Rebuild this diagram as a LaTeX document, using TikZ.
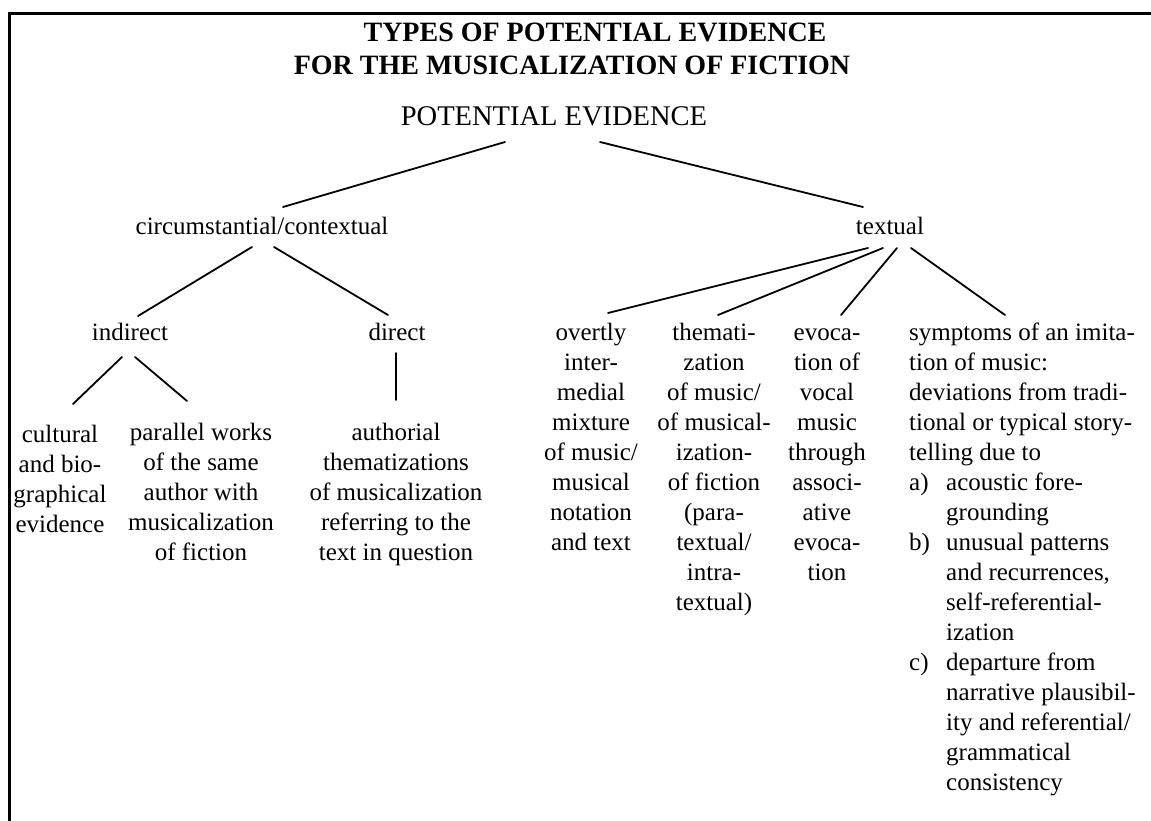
\documentclass[tikz,border=0pt]{standalone}
\usepackage{fontspec}
\setmainfont{Liberation Serif}
% text columns whose baseline is their first line
\newcommand\colc[1]{\begin{tabular}[t]{@{}c@{}}#1\end{tabular}}
\newcommand\coll[1]{\begin{tabular}[t]{@{}l@{}}#1\end{tabular}}
% hanging indent for the lettered items of the last column
\newcommand\symitem[1]{\makebox[37pt][l]{#1}}
\newcommand\symcont{\hspace*{37pt}}
\begin{document}
\begin{tikzpicture}[x=1pt,y=-1pt,
  txt/.style={inner sep=0pt, anchor=base,
    font=\fontsize{25}{30}\selectfont},
  titletxt/.style={inner sep=0pt, anchor=base,
    font=\fontsize{28}{34}\selectfont\bfseries},
  branch/.style={line width=1.8pt, line cap=round},
  frameline/.style={line width=3pt}]
\useasboundingbox (0,0) rectangle (1151,821);

% page frame (top and left edges)
\draw[frameline] (9,821) -- (9,13.5) -- (1151,13.5);

% heading
\node[titletxt] (title1) at (595,42) {TYPES OF POTENTIAL EVIDENCE};
\node[titletxt] (title2) at (572,75) {FOR THE MUSICALIZATION OF FICTION};

% tree
\node[txt, font=\fontsize{28.5}{34}\selectfont] (pe) at (554,126) {POTENTIAL EVIDENCE};
\node[txt] (circ) at (262,234) {circumstantial/contextual};
\node[txt] (textual) at (890,234) {textual};

\node[txt] (indirect) at (130,340) {indirect};
\node[txt] (direct) at (397,340) {direct};

\node[txt] (cultural) at (60,442) {\colc{cultural\\and bio-\\graphical\\evidence}};
\node[txt] (parallel) at (201,440) {\colc{parallel works\\of the same\\author with\\musicalization\\of fiction}};
\node[txt] (authorial) at (396,440) {\colc{authorial\\thematizations\\of musicalization\\referring to the\\text in question}};

\node[txt] (overtly) at (591,340) {\colc{overtly\\inter-\\medial\\mixture\\of music/\\musical\\notation\\and text}};
\node[txt] (themat) at (714,340) {\colc{themati-\\zation\\of music/\\of musical-\\ization-\\of fiction\\(para-\\textual/\\intra-\\textual)}};
\node[txt] (evoc) at (827,340) {\colc{evoca-\\tion of\\vocal\\music\\through\\associ-\\ative\\evoca-\\tion}};
\node[txt, anchor=base west] (sympt) at (909,340) {\coll{symptoms of an imita-\\
tion of music:\\
deviations from tradi-\\
tional or typical story-\\
telling due to\\
\symitem{a)}acoustic fore-\\
\symcont grounding\\
\symitem{b)}unusual patterns\\
\symcont and recurrences,\\
\symcont self-referential-\\
\symcont ization\\
\symitem{c)}departure from\\
\symcont narrative plausibil-\\
\symcont ity and referential/\\
\symcont grammatical\\
\symcont consistency}};

% connectors
\draw[branch] ([shift={(-49,16)}]pe.base) -- ([shift={(21,-27)}]circ.base);
\draw[branch] ([shift={(46,16)}]pe.base) -- ([shift={(-27,-27)}]textual.base);

\draw[branch] ([shift={(-10,13)}]circ.base) -- ([shift={(8,-24)}]indirect.base);
\draw[branch] ([shift={(12,13)}]circ.base) -- ([shift={(-9,-25)}]direct.base);

\draw[branch] ([shift={(-8,17)}]indirect.base) -- ([shift={(13,-38)}]cultural.base);
\draw[branch] ([shift={(5,17)}]indirect.base) -- ([shift={(-14,-39)}]parallel.base);
\draw[branch] ([shift={(-1,13)}]direct.base) -- ([shift={(0,-40)}]authorial.base);

\draw[branch] ([shift={(-22,14)}]textual.base) -- ([shift={(17,-27)}]overtly.base);
\draw[branch] ([shift={(-7,14)}]textual.base) -- ([shift={(4,-25)}]themat.base);
\draw[branch] ([shift={(7,14)}]textual.base) -- ([shift={(14,-25)}]evoc.base);
\draw[branch] ([shift={(21,14)}]textual.base) -- ([shift={(96,-25)}]sympt.base west);
\end{tikzpicture}
\end{document}
